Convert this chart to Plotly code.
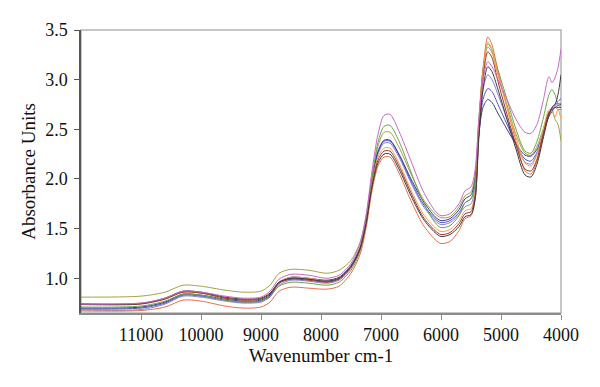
import plotly.graph_objects as go

wavenumber = [12000, 11000, 10600, 10300, 10000, 9600, 9300, 9000, 8850, 8700, 8500, 8200, 7900, 7700,
              7500, 7350, 7250, 7150, 7050, 6950, 6850, 6700, 6500, 6300, 6100, 6000, 5850, 5700, 5600,
              5500, 5430, 5370, 5300, 5220, 5150, 5050, 4900, 4750, 4600, 4500, 4400, 4300, 4200, 4150,
              4100, 4050, 4000]

olive = [0.81, 0.82, 0.86, 0.93, 0.92, 0.88, 0.86, 0.87, 0.93, 1.05, 1.09, 1.08, 1.05, 1.08,
         1.18, 1.36, 1.62, 2.02, 2.33, 2.47, 2.47, 2.32, 2.05, 1.80, 1.65, 1.61, 1.62, 1.72, 1.83,
         1.87, 2.05, 2.60, 3.10, 3.33, 3.27, 3.05, 2.75, 2.45, 2.26, 2.24, 2.33, 2.50, 2.68, 2.70,
         2.60, 2.55, 2.38]
magenta = [0.74, 0.75, 0.80, 0.87, 0.86, 0.82, 0.80, 0.81, 0.87, 0.99, 1.04, 1.03, 1.00, 1.03,
           1.15, 1.35, 1.63, 2.08, 2.45, 2.64, 2.65, 2.48, 2.18, 1.88, 1.68, 1.63, 1.65, 1.75, 1.88,
           1.92, 2.10, 2.60, 3.00, 3.18, 3.13, 3.00, 2.80, 2.60, 2.47, 2.46, 2.55, 2.78, 3.03, 2.97,
           3.02, 3.12, 3.31]
green = [0.71, 0.72, 0.77, 0.84, 0.83, 0.78, 0.76, 0.77, 0.82, 0.92, 0.96, 0.95, 0.93, 0.96,
         1.08, 1.27, 1.55, 2.00, 2.37, 2.53, 2.54, 2.38, 2.07, 1.77, 1.56, 1.51, 1.53, 1.63, 1.76,
         1.80, 1.98, 2.55, 3.10, 3.36, 3.30, 3.10, 2.80, 2.50, 2.28, 2.26, 2.38, 2.60, 2.85, 2.90,
         2.85, 2.75, 2.72]
blue = [0.69, 0.70, 0.75, 0.83, 0.82, 0.78, 0.76, 0.77, 0.82, 0.95, 1.00, 0.99, 0.97, 1.00,
        1.12, 1.30, 1.57, 1.98, 2.27, 2.38, 2.38, 2.24, 1.98, 1.75, 1.60, 1.56, 1.58, 1.66, 1.76,
        1.80, 1.97, 2.45, 2.80, 2.91, 2.88, 2.75, 2.55, 2.35, 2.20, 2.18, 2.27, 2.45, 2.65, 2.72,
        2.75, 2.78, 2.81]
navy = [0.70, 0.71, 0.76, 0.84, 0.83, 0.79, 0.77, 0.78, 0.83, 0.96, 1.01, 1.00, 0.98, 1.01,
        1.13, 1.31, 1.58, 1.99, 2.28, 2.39, 2.39, 2.25, 2.00, 1.78, 1.62, 1.58, 1.60, 1.69, 1.80,
        1.84, 2.00, 2.45, 2.72, 2.80, 2.77, 2.66, 2.50, 2.35, 2.24, 2.23, 2.30, 2.46, 2.63, 2.68,
        2.72, 2.74, 2.75]
black = [0.74, 0.745, 0.80, 0.87, 0.86, 0.81, 0.79, 0.80, 0.85, 0.96, 1.00, 0.99, 0.97, 1.00,
         1.12, 1.30, 1.55, 1.92, 2.16, 2.25, 2.25, 2.10, 1.83, 1.60, 1.46, 1.42, 1.44, 1.52, 1.62,
         1.64, 1.80, 2.40, 2.90, 3.13, 3.08, 2.90, 2.60, 2.30, 2.04, 2.02, 2.15, 2.40, 2.65, 2.72,
         2.75, 2.85, 3.05]
orange = [0.745, 0.75, 0.79, 0.86, 0.85, 0.80, 0.78, 0.79, 0.84, 0.96, 1.01, 1.00, 0.97, 1.00,
          1.12, 1.30, 1.56, 1.95, 2.22, 2.31, 2.31, 2.16, 1.89, 1.65, 1.51, 1.47, 1.49, 1.58, 1.68,
          1.70, 1.87, 2.50, 3.05, 3.38, 3.30, 3.05, 2.72, 2.42, 2.16, 2.13, 2.25, 2.48, 2.70, 2.68,
          2.62, 2.70, 2.60]
redorange = [0.67, 0.675, 0.71, 0.78, 0.77, 0.72, 0.70, 0.71, 0.76, 0.87, 0.91, 0.90, 0.89, 0.92,
             1.05, 1.24, 1.50, 1.88, 2.13, 2.22, 2.22, 2.06, 1.78, 1.54, 1.39, 1.35, 1.37, 1.48, 1.60,
             1.63, 1.80, 2.50, 3.10, 3.43, 3.35, 3.08, 2.72, 2.38, 2.08, 2.05, 2.18, 2.42, 2.65, 2.70,
             2.72, 2.70, 2.70]
purple = [0.68, 0.685, 0.74, 0.82, 0.81, 0.77, 0.75, 0.76, 0.81, 0.93, 0.98, 0.97, 0.95, 0.98,
          1.10, 1.29, 1.56, 1.96, 2.25, 2.36, 2.36, 2.22, 1.96, 1.73, 1.58, 1.54, 1.56, 1.64, 1.72,
          1.75, 1.92, 2.50, 2.90, 3.05, 3.00, 2.85, 2.60, 2.35, 2.17, 2.15, 2.25, 2.45, 2.65, 2.70,
          2.74, 2.76, 2.76]
darkred = [0.735, 0.74, 0.79, 0.86, 0.85, 0.80, 0.78, 0.79, 0.84, 0.95, 0.99, 0.98, 0.96, 0.99,
           1.11, 1.29, 1.54, 1.93, 2.19, 2.28, 2.28, 2.13, 1.86, 1.62, 1.48, 1.44, 1.46, 1.55, 1.65,
           1.67, 1.84, 2.45, 3.00, 3.28, 3.22, 2.98, 2.65, 2.34, 2.10, 2.08, 2.20, 2.44, 2.67, 2.70,
           2.72, 2.72, 2.72]

series = [
    ("olive", olive, "#A6A244"),
    ("purple", purple, "#8A7ED8"),
    ("blue", blue, "#5555CC"),
    ("navy", navy, "#333D8F"),
    ("green", green, "#6BA646"),
    ("redorange", redorange, "#E8704A"),
    ("orange", orange, "#F2A54A"),
    ("darkred", darkred, "#A0342C"),
    ("black", black, "#3C3C3C"),
    ("magenta", magenta, "#CC66CC"),
]

x_ticks = [11000, 10000, 9000, 8000, 7000, 6000, 5000, 4000]
y_ticks = [1.0, 1.5, 2.0, 2.5, 3.0, 3.5]

fig = go.Figure()
for name, vals, col in series:
    fig.add_trace(go.Scatter(x=wavenumber, y=vals, mode="lines", name=name,
                             line=dict(color=col, width=1, shape="spline", smoothing=0.8),
                             showlegend=False))

font_family = "Liberation Serif, Times New Roman, serif"
# page body has an 8px default margin, so the figure is sized to fit the 600x387 window
fig.update_layout(
    width=592, height=379,
    margin=dict(l=73, r=39, t=18, b=74),
    paper_bgcolor="white", plot_bgcolor="white",
    font=dict(family=font_family, size=18, color="#111111"),
    shapes=[dict(type="rect", xref="paper", yref="paper", x0=0, x1=1, y0=0, y1=1,
                 line=dict(color="#B5B5B5", width=1.5), layer="below")],
)
fig.update_xaxes(range=[12000, 4000], tickvals=x_ticks, ticktext=[str(v) for v in x_ticks],
                 showgrid=False, zeroline=False, showline=True, linecolor="#8C8C8C", linewidth=1.5,
                 ticks="outside", ticklen=5, tickcolor="#8C8C8C", tickwidth=1,
                 ticklabelstandoff=0,
                 title=dict(text="Wavenumber cm-1", font=dict(size=19), standoff=3))
fig.update_yaxes(range=[0.65, 3.5], tickvals=y_ticks, ticktext=[f"{v:.1f}" for v in y_ticks],
                 showgrid=False, zeroline=False, showline=True, linecolor="#555555", linewidth=1.5,
                 ticks="outside", ticklen=5, tickcolor="#555555", tickwidth=1,
                 ticklabelstandoff=3,
                 title=dict(text="Absorbance Units", font=dict(size=19), standoff=5))

fig.write_html("out.html")
